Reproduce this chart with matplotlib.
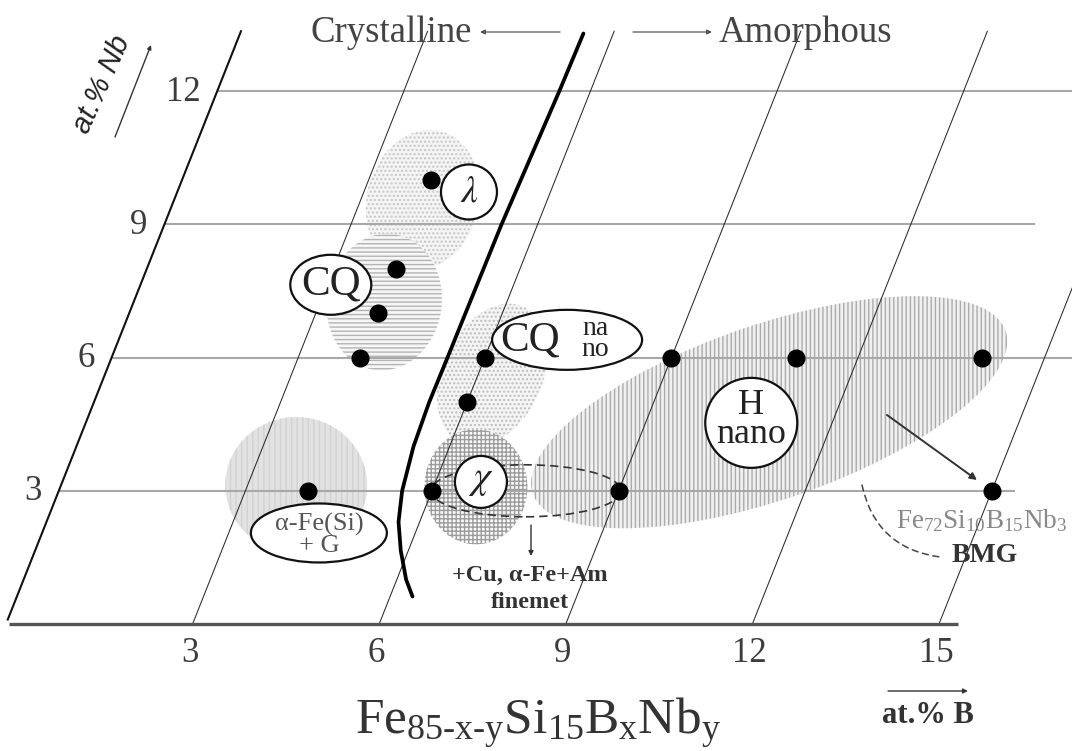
import numpy as np
import matplotlib
matplotlib.use("Agg")
import matplotlib.pyplot as plt
import matplotlib.transforms as mtransforms
from matplotlib.patches import Ellipse

# ---------------- data ----------------
b_ticks = [3, 6, 9, 12, 15]
nb_ticks = [3, 6, 9, 12]
b_tick_labels = ["3", "6", "9", "12", "15"]
nb_tick_labels = ["3", "6", "9", "12"]
nb_line_end_B = [15.37, 15.6, 14.0, 13.8]      # right end of each Nb grid line
b_line_top_Nb = 13.35

# measured alloys (at.% B, at.% Nb)
point_B = [4, 4, 4, 4, 4, 6, 6, 6, 9, 9, 11, 14, 15]
point_Nb = [3, 6, 7, 8, 10, 3, 5, 6, 3, 6, 6, 6, 3]

# crystalline / amorphous boundary
boundary_B = [5.52, 5.50, 5.42, 5.40, 5.39, 5.42, 5.52, 5.66, 5.88, 6.15, 6.36]
boundary_Nb = [13.3, 12.0, 9.0, 6.0, 5.0, 4.0, 3.0, 2.3, 1.65, 1.0, 0.62]

# phase regions: centres (B, Nb)
region_names = ["lambda", "CQ", "CQnano", "aFe", "chi", "H"]
region_B = [4.0, 4.03, 6.23, 3.78, 6.68, 10.92]
region_Nb = [9.55, 7.25, 5.61, 3.13, 3.09, 4.77]

# phase labels: centres (B, Nb)
label_B = [4.69, 3.06, 7.21, 10.70, 6.73, 4.45]
label_Nb = [9.73, 7.64, 6.40, 4.53, 3.20, 2.05]

# ---------------- figure ----------------
W, H = 1072, 751
fig = plt.figure(figsize=(W / 100, H / 100), dpi=100)
ax = fig.add_axes([0, 0, 1, 1])
ax.set_axis_off()

PX_B, PX_NB, X0, Y0, SHEAR_PX = 62.2, 44.4, 6.0, 624.0, 17.6
k = SHEAR_PX / PX_B
ax.set_xlim(-X0 / PX_B, (W - X0) / PX_B)
ax.set_ylim((Y0 - H) / PX_NB, Y0 / PX_NB)
skew = mtransforms.Affine2D().skew(np.arctan(k), 0) + ax.transData
PXT = mtransforms.Affine2D().scale(1, -1).translate(0, H)   # pixel coords, y down

SERIF = "Liberation Serif"
SANS = "Liberation Sans"
plt.rcParams["hatch.linewidth"] = 1.0
plt.rcParams["mathtext.fontset"] = "custom"
plt.rcParams["mathtext.rm"] = SERIF
plt.rcParams["mathtext.it"] = SERIF + ":italic"


def at(B, Nb):
    return mtransforms.ScaledTranslation(B, Nb, skew)


# ---- phase regions (shaded) ----
region_style = {
    "lambda": dict(w=112, h=142, a=-15, fc="#f4f4f4", hc="#c6c6c6", hatch="...."),
    "CQ": dict(w=115, h=137, a=-8, fc="#f6f6f6", hc="#b4b4b4", hatch="----"),
    "CQnano": dict(w=100, h=150, a=-25, fc="#f4f4f4", hc="#bcbcbc", hatch="...."),
    "aFe": dict(w=142, h=136, a=0, fc="#e2e2e2", hc="#d2d2d2", hatch="|||"),
    "chi": dict(w=103, h=115, a=0, fc="#f8f8f8", hc="#9c9c9c", hatch="++++"),
    "H": dict(w=500, h=175, a=19, fc="#f0f0f0", hc="#ababab", hatch="||||"),
}
for name, B, Nb in zip(region_names, region_B, region_Nb):
    s = region_style[name]
    e = Ellipse((0, 0), s["w"], s["h"], angle=s["a"], transform=at(B, Nb),
                facecolor=s["fc"], edgecolor=s["hc"], hatch=s["hatch"],
                linewidth=0, zorder=1)
    ax.add_patch(e)

# ---- grid ----
for nb, bend in zip(nb_ticks, nb_line_end_B):
    ax.plot([0, bend], [nb, nb], color="#a8a8a8", lw=1.5, transform=skew, zorder=2,
            solid_capstyle="butt")
for b in b_ticks:
    ax.plot([b, b], [0, b_line_top_Nb], color="#2a2a2a", lw=0.75, transform=skew, zorder=2)
ax.plot([0, 0], [0.1, b_line_top_Nb], color="#111111", lw=1.5, transform=skew, zorder=3)
ax.plot([0.05, 15.3], [0, 0], color="#555555", lw=2.4, transform=skew, zorder=3,
        solid_capstyle="butt")

# ---- boundary ----
ax.plot(boundary_B, boundary_Nb, color="black", lw=2.7, transform=skew, zorder=3,
        solid_capstyle="round", solid_joinstyle="round")

# ---- dashed lens around chi ----
ax.add_patch(Ellipse((0, 0), 190, 52, transform=at(7.51, 3.0), facecolor="none",
                     edgecolor="#333333", lw=1.2, linestyle=(0, (5, 3)), zorder=3))

# ---- points ----
ax.plot(point_B, point_Nb, "o", ms=12, color="black", transform=skew, zorder=5)

# ---- phase labels ----
label_shape = [(56, 55), (81, 60), (150, 60), (92, 90), (52, 52), (136, 59)]
for (w, h), B, Nb in zip(label_shape, label_B, label_Nb):
    ax.add_patch(Ellipse((0, 0), w, h, transform=at(B, Nb), facecolor="white",
                         edgecolor="#111111", lw=1.6, zorder=6))


def lab(txt, B, Nb, dx=0, dy=0, size=28, color="#222222", **kw):
    ax.annotate(txt, xy=(B, Nb), xycoords=skew, xytext=(dx, dy),
                textcoords="offset pixels", ha="center", va="center",
                fontsize=size, color=color, family=SERIF, zorder=7, **kw)


lab(r"$\lambda$", label_B[0], label_Nb[0], 0, 0, size=27, math_fontfamily="stix")
lab("CQ", label_B[1], label_Nb[1], 0, 1, size=31)
lab("CQ", label_B[2], label_Nb[2], -37, 0, size=31)
lab("na\nno", label_B[2], label_Nb[2], 28, 1, size=20, linespacing=0.78)
lab("H\nnano", label_B[3], label_Nb[3], 0, 3, size=26, linespacing=0.86)
lab(r"$\chi$", label_B[4], label_Nb[4], 0, 2, size=28, math_fontfamily="stix")
lab("α-Fe(Si)\n+ G", label_B[5], label_Nb[5], 0, -2, size=19, color="#555555",
    linespacing=0.9)


# ---- free annotations (pixel coordinates) ----
def ptxt(x, y, s, **kw):
    kw.setdefault("family", SERIF)
    ax.text(x, y, s, transform=PXT, **kw)


def parrow(x1, y1, x2, y2, lw=1.0, color="#444444", ms=9, style="-|>", **kw):
    ax.annotate("", xy=(x2, y2), xycoords=PXT, xytext=(x1, y1), textcoords=PXT,
                arrowprops=dict(arrowstyle=style, lw=lw, color=color,
                                mutation_scale=ms, shrinkA=0, shrinkB=0, **kw),
                zorder=7)


ptxt(472, 42, "Crystalline", ha="right", va="baseline", fontsize=26.5, color="#444444")
parrow(560, 32, 480, 32, lw=0.9, color="#555555", ms=7)
parrow(633, 32, 712, 32, lw=0.9, color="#555555", ms=7)
ptxt(719, 42, "Amorphous", ha="left", va="baseline", fontsize=26.5, color="#444444")

# tick labels
for nb, t in zip(nb_ticks, nb_tick_labels):
    ax.annotate(t, xy=(0, nb), xycoords=skew, xytext=(-17, -1), textcoords="offset pixels",
                ha="right", va="center", fontsize=25, color="#3c3c3c", family=SERIF)
for b, t in zip(b_ticks, b_tick_labels):
    ax.annotate(t, xy=(b, 0), xycoords=skew, xytext=(-3, -30), textcoords="offset pixels",
                ha="center", va="center", fontsize=25, color="#3c3c3c", family=SERIF)

# axis captions
ptxt(102, 84, "at.% Nb", ha="center", va="center", rotation=66, fontsize=21,
     family=SANS, style="italic", color="#222222")
parrow(115, 137, 151, 45, lw=1.0, color="#333333", ms=6)
ptxt(538, 734, r"Fe$_{\mathrm{85\text{-}x\text{-}y}}$Si$_{\mathrm{15}}$B$_{\mathrm{x}}$Nb$_{\mathrm{y}}$",
     ha="center", va="baseline", fontsize=37, color="#333333")
ptxt(928, 723, "at.% B", ha="center", va="baseline", fontsize=22, weight="bold", color="#333333")
parrow(888, 691, 968, 691, lw=1.0, color="#333333", ms=7)

# finemet note
parrow(531, 525, 531, 556, lw=1.0, color="#333333", ms=7)
ptxt(530, 575, "+Cu, α-Fe+Am", ha="center", va="center", fontsize=17.5, weight="bold", color="#333333")
ptxt(530, 603, "finemet", ha="center", va="center", fontsize=17.5, weight="bold", color="#333333")

# BMG note
parrow(887, 415, 977, 480, lw=1.4, color="#333333", ms=10)
ptxt(896, 528, r"Fe$_{72}$Si$_{10}$B$_{15}$Nb$_{3}$", ha="left", va="baseline",
     fontsize=19.5, color="#888888")
ptxt(985, 556, "BMG", ha="center", va="center", fontsize=20, weight="bold", color="#333333")
parrow(862, 485, 940, 557, lw=1.1, color="#444444", style="-",
       connectionstyle="arc3,rad=0.35", linestyle=(0, (4, 3)))

fig.savefig("out.png", dpi=100)
